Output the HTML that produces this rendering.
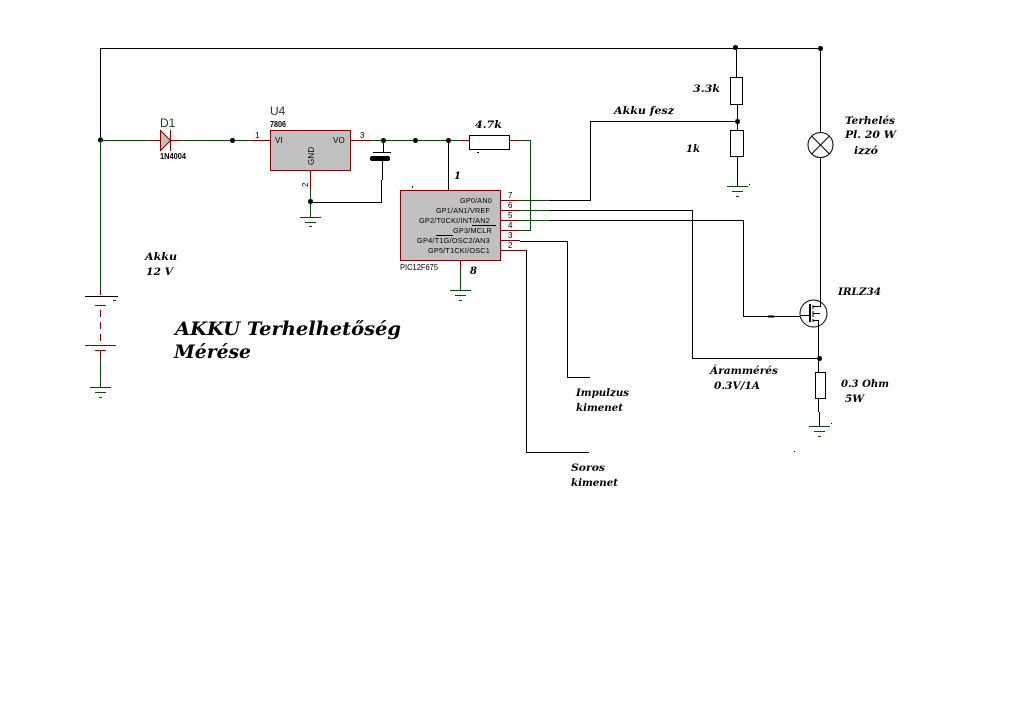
<!DOCTYPE html>
<html>
<head>
<meta charset="utf-8">
<style>
html,body{margin:0;padding:0;background:#fff;width:1010px;height:710px;overflow:hidden}
svg{display:block}
.w{fill:none;stroke:#000;stroke-width:1}
.g{fill:none;stroke:#0a4a0a;stroke-width:1}
.r{fill:none;stroke:#8b0000;stroke-width:1}
.s{font-family:"Liberation Sans",sans-serif;font-size:8px;fill:#000}
.p{font-family:"Liberation Sans",sans-serif;font-size:8px;fill:#000;letter-spacing:.2px}
.m{font-family:"Liberation Sans",sans-serif;font-size:7.5px;fill:#000;letter-spacing:.2px}
.i{font-family:"DejaVu Serif",serif;font-weight:bold;font-style:italic;font-size:10px;fill:#000}
.t{font-family:"DejaVu Serif",serif;font-weight:bold;font-style:italic;font-size:19px;fill:#000}
</style>
</head>
<body>
<svg width="1010" height="710" viewBox="0 0 1010 710" xmlns="http://www.w3.org/2000/svg" shape-rendering="crispEdges">
<rect width="1010" height="710" fill="#fff"/>

<!-- top rail -->
<path class="w" d="M100.5 140V48.5H820.5"/>
<circle cx="100.5" cy="140" r="2.5"/><circle cx="735.5" cy="47.5" r="2.5"/><circle cx="820.5" cy="48.5" r="2.5"/>

<!-- input wire, diode -->
<path class="g" d="M100.5 140.5H150M181 140.5H250M100.5 140V293"/>
<path class="r" d="M150 140.5H160M171 140.5H181M250 140.5H270"/>
<polygon points="160.5,130.5 170.5,140.5 160.5,150.5" fill="#c0c0c0" stroke="#8b0000"/>
<path class="r" d="M170.5 130V151"/>
<circle cx="232.5" cy="140.5" r="2.5"/>
<text x="160" y="127" font-family="Liberation Sans,sans-serif" font-size="12" fill="#1c3a1c">D1</text>
<text x="160" y="159" class="s" textLength="26" lengthAdjust="spacingAndGlyphs" font-weight="bold">1N4004</text>

<!-- U4 -->
<rect x="270.5" y="130.5" width="80" height="40" fill="#c0c0c0" stroke="#8b0000"/>
<text x="270" y="115" font-family="Liberation Sans,sans-serif" font-size="12" fill="#1c3a1c">U4</text>
<text x="270" y="127" class="s" textLength="16" lengthAdjust="spacingAndGlyphs" font-weight="bold">7806</text>
<text x="275" y="143" class="p">VI</text>
<text x="333" y="143" class="p">VO</text>
<text transform="translate(314,165) rotate(-90)" class="p">GND</text>
<text x="255" y="138" class="s">1</text>
<text x="360" y="138" class="s">3</text>
<text transform="translate(308,187) rotate(-90)" class="s">2</text>
<path class="r" d="M350 140.5H371M310.5 170V190"/>
<path class="g" d="M371 140.5H469M310.5 190V217"/>
<circle cx="383.5" cy="140.5" r="2.5"/><circle cx="415.5" cy="140.5" r="2.5"/><circle cx="448.5" cy="140.5" r="2.5"/>
<circle cx="310.5" cy="201.5" r="2.5"/>
<!-- ground U4 -->
<path class="g" d="M300 217.5H321M305 222.5H316"/><path class="g" d="M309 226.5H312"/>

<!-- capacitor -->
<path class="w" d="M383.5 140V152M373 152.5H391M382.5 158V180M381.5 180V202.5H311"/>
<rect x="370" y="156" width="20" height="5" rx="2" fill="#000"/>

<!-- 4.7k resistor -->
<path class="r" d="M460 140.5H469M510 140.5H520"/>
<rect x="469.5" y="135.5" width="40" height="14" fill="#fff" stroke="#000"/>
<path class="g" d="M520 140.5H530.5V230.5H520"/>
<text x="475" y="128" class="i" textLength="27" lengthAdjust="spacingAndGlyphs">4.7k</text>
<path class="w" d="M477 152.5H479"/>
<path class="w" d="M448.5 140V190"/>
<text x="454" y="179" class="i">1</text>

<!-- MCU -->
<rect x="400.5" y="190.5" width="100" height="70" fill="#c0c0c0" stroke="#8b0000"/>
<path class="w" d="M412.5 186V188"/>
<text x="460" y="203" class="m" textLength="32" lengthAdjust="spacingAndGlyphs">GP0/AN0</text>
<text x="436" y="213" class="m" textLength="54" lengthAdjust="spacingAndGlyphs">GP1/AN1/VREF</text>
<text x="419" y="223" class="m" textLength="71" lengthAdjust="spacingAndGlyphs">GP2/T0CKI/INT/AN2</text>
<text x="453" y="233" class="m" textLength="39" lengthAdjust="spacingAndGlyphs">GP3/MCLR</text>
<text x="417" y="243" class="m" textLength="73" lengthAdjust="spacingAndGlyphs">GP4/T1G/OSC2/AN3</text>
<text x="428" y="253" class="m" textLength="62" lengthAdjust="spacingAndGlyphs">GP5/T1CKI/OSC1</text>
<path class="w" d="M472 225.5H496M436 235.5H453"/>
<text x="400" y="270" class="s" textLength="38" lengthAdjust="spacingAndGlyphs">PIC12F675</text>
<text x="470" y="274" class="i">8</text>
<path class="r" d="M500 200.5H520M500 210.5H520M500 220.5H520M500 230.5H520M500 240.5H520M500 250.5H526"/>
<text x="508" y="198" class="s">7</text><text x="508" y="208" class="s">6</text><text x="508" y="218" class="s">5</text><text x="508" y="228" class="s">4</text><text x="508" y="238" class="s">3</text><text x="508" y="248" class="s">2</text>
<path class="g" d="M520 200.5H550M520 210.5H550M520 220.5H550"/>
<path class="r" d="M460.5 260V270"/>
<path class="g" d="M460.5 270V290M450 290.5H471M455 295.5H466M459 300.5H462"/>

<!-- signal wires -->
<path class="w" d="M550 200.5H590.5V121.5H737M550 210.5H692.5V358.5H819M550 220.5H743.5V316.5H800"/>
<path class="w" d="M520 241.5H567.5V377.5H590M526.5 250V453M526 452.5H589"/>
<text x="614" y="114" class="i" textLength="60" lengthAdjust="spacingAndGlyphs">Akku fesz</text>

<!-- divider -->
<path class="w" d="M736.5 48V77M737.5 104V130M737.5 157V186"/>
<rect x="730.5" y="77.5" width="12" height="27" fill="#fff" stroke="#000"/>
<rect x="730.5" y="130.5" width="13" height="26" fill="#fff" stroke="#000"/>
<circle cx="737.5" cy="121.5" r="2.5"/>
<path class="g" d="M727 186.5H748M732 191.5H743M736 196.5H739"/>
<path class="w" d="M749 184.5H750"/>
<text x="693" y="92" class="i" textLength="27" lengthAdjust="spacingAndGlyphs">3.3k</text>
<text x="686" y="152" class="i" textLength="14" lengthAdjust="spacingAndGlyphs">1k</text>

<!-- lamp -->
<path class="w" d="M820.5 48V133M820.5 157V301"/>
<g shape-rendering="geometricPrecision">
<circle cx="820.5" cy="145" r="12.5" fill="#fff" stroke="#000"/>
<path class="w" d="M811.5 136L829.5 154M829.5 136L811.5 154"/>
<!-- mosfet -->
<circle cx="813.5" cy="313.5" r="13.5" fill="#fff" stroke="#000"/>
</g>
<path class="w" d="M800 315.5H809"/>
<path d="M810 304V322" stroke="#000" stroke-width="2" fill="none"/>
<path class="w" d="M813 305V309M813 311V317M813 319V322M813 306.5H820.5V301M813 313.5H820M813 320.5H818.5"/>
<path class="w" d="M818.5 320V358"/>
<path d="M768 316.5H774" stroke="#000" stroke-width="2"/>
<text x="838" y="295" class="i" textLength="43" lengthAdjust="spacingAndGlyphs">IRLZ34</text>
<text x="845" y="124" class="i" textLength="50" lengthAdjust="spacingAndGlyphs">Terhelés</text>
<text x="845" y="138" class="i" textLength="51" lengthAdjust="spacingAndGlyphs">Pl. 20 W</text>
<text x="854" y="154" class="i" textLength="24" lengthAdjust="spacingAndGlyphs">izzó</text>

<!-- shunt -->
<circle cx="819.5" cy="358.5" r="2.5"/>
<path class="w" d="M818.5 358V372M818.5 398V412M819.5 412V426"/>
<rect x="815.5" y="372.5" width="10" height="26" fill="#fff" stroke="#000"/>
<path class="g" d="M809 426.5H830M814 431.5H825M818 436.5H821"/>
<path class="w" d="M831 423.5H832M794 451.5H795"/>
<text x="710" y="374" class="i" textLength="68" lengthAdjust="spacingAndGlyphs">Árammérés</text>
<text x="714" y="389" class="i" textLength="46" lengthAdjust="spacingAndGlyphs">0.3V/1A</text>
<text x="841" y="387" class="i" textLength="48" lengthAdjust="spacingAndGlyphs">0.3 Ohm</text>
<text x="845" y="402" class="i" textLength="19" lengthAdjust="spacingAndGlyphs">5W</text>

<!-- battery -->
<path class="w" d="M85 296.5H118"/>
<path class="r" d="M100.5 290V295M95 305.5H106M113 300.5H116M85 345.5H116M95 350.5H106M100.5 350V358"/>
<path class="r" d="M100.5 310V345" stroke-dasharray="7 5"/>
<path class="g" d="M100.5 358V387M90 387.5H111M95 392.5H106M99 397.5H102"/>
<text x="145" y="260" class="i" textLength="32" lengthAdjust="spacingAndGlyphs">Akku</text>
<text x="146" y="275" class="i" textLength="27" lengthAdjust="spacingAndGlyphs">12 V</text>

<!-- title -->
<text x="175" y="335" class="t" textLength="226" lengthAdjust="spacingAndGlyphs">AKKU Terhelhetőség</text>
<text x="174" y="358" class="t" textLength="77" lengthAdjust="spacingAndGlyphs">Mérése</text>

<!-- output labels -->
<text x="576" y="396" class="i" textLength="53" lengthAdjust="spacingAndGlyphs">Impulzus</text>
<text x="576" y="411" class="i" textLength="47" lengthAdjust="spacingAndGlyphs">kimenet</text>
<text x="571" y="471" class="i" textLength="34" lengthAdjust="spacingAndGlyphs">Soros</text>
<text x="571" y="486" class="i" textLength="47" lengthAdjust="spacingAndGlyphs">kimenet</text>
</svg>
</body>
</html>
